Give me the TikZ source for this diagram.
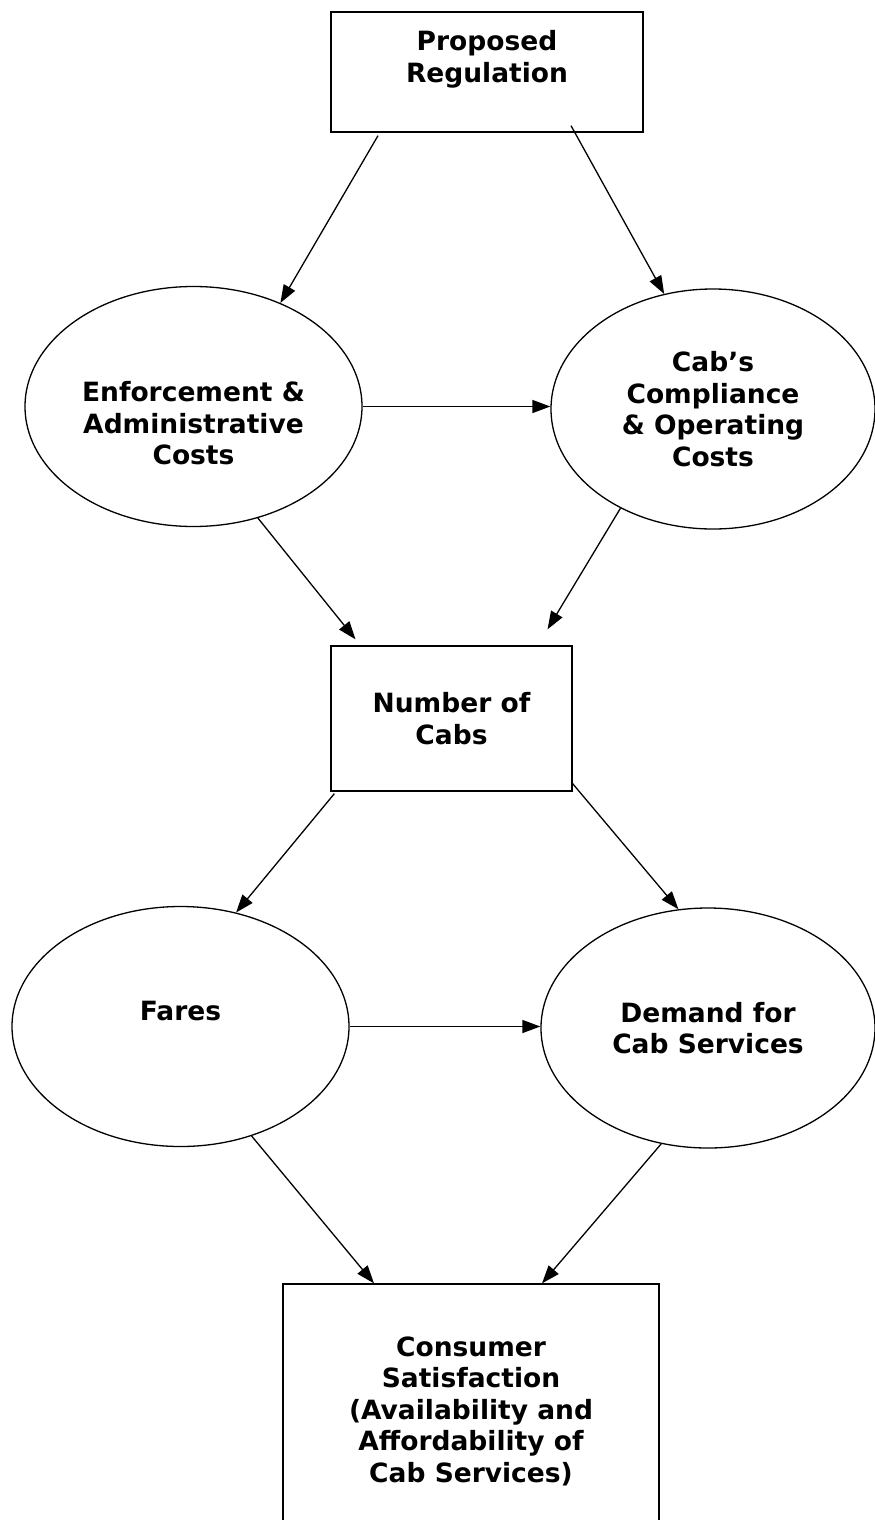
\documentclass[tikz,border=0pt]{standalone}
\usepackage{fontspec}
\setmainfont{DejaVu Sans}
\usetikzlibrary{positioning,arrows.meta,shapes.geometric}

\begin{document}
\begin{tikzpicture}[
    on grid, auto,
    font={\fontsize{26.5}{31.5}\selectfont\bfseries},
    base/.style={text=black,draw=black,align=center,line width=1.3pt},
    box/.style={base,rectangle},
    blob/.style={base,ellipse,minimum width=337pt,minimum height=240pt},
    link/.style={line width=1.3pt,-{Triangle[length=18pt,width=13pt]}},
]

    \useasboundingbox (0,0) rectangle (875pt,-1520pt);

    \node[box,minimum width=312pt,minimum height=120pt] at (487pt,-72pt) (prop) {Proposed\\Regulation\\~};

    \node[blob,below left=334.5pt and 293.5pt of prop] (enf)    {\strut\\Enforcement \&\\Administrative\\Costs};
    \node[blob,minimum width=324pt,below right=337pt and 226pt of prop] (comply) {Cab’s\\Compliance\\\& Operating\\Costs};

    \node[box,minimum width=241pt,minimum height=145pt,below left=646.5pt and 35.5pt of prop] (ncabs) {Number of\\Cabs};

    \node[blob,below left=308pt and 271pt of ncabs]  (fares)  {Fares\\~};
    \node[blob,minimum width=334pt,below right=309.5pt and 256.5pt of ncabs] (demand) {Demand for\\Cab Services};

    \node[box,minimum width=376pt,minimum height=254pt,below right=692.5pt and 19.5pt of ncabs] (consumer)
        {Consumer\\Satisfaction\\(Availability and\\Affordability of\\Cab Services)};

    % regulation drives both cost groups
    \draw[link] ([xshift=-109pt,yshift=-3pt]prop.south) -- (enf.50);
    \draw[link] ([xshift=84pt,yshift=7pt]prop.south) -- (comply.113);
    \draw[link] (enf.east) -- (enf.east -| comply.west);

    % costs feed the number of cabs
    \draw[link] (enf.-60) -- ([xshift=-96pt,yshift=6pt]ncabs.north);
    \draw[link] (comply.-133) -- ([xshift=96pt,yshift=16pt]ncabs.north);

    \draw[link] ([xshift=4pt,yshift=-2pt]ncabs.south west) -- (fares.64);
    \draw[link] ([yshift=8pt]ncabs.south east) -- (demand.104);
    \draw[link] (fares.east) -- (fares.east -| demand.west);

    \draw[link] (fares.-57) -- ([xshift=-97pt]consumer.north);
    \draw[link] (demand.-112) -- ([xshift=71pt]consumer.north);

\end{tikzpicture}
\end{document}
